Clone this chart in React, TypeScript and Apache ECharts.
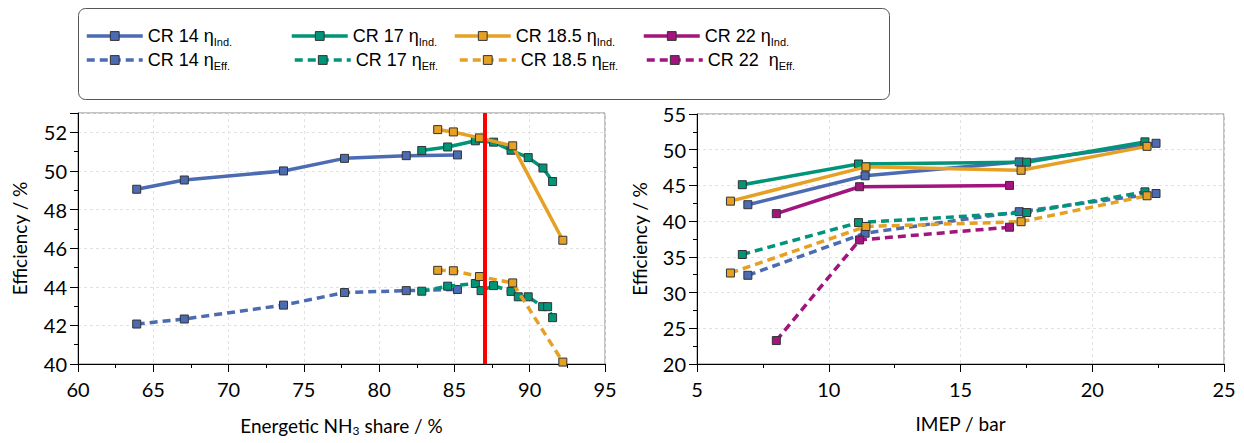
import React, { useEffect, useRef } from "react";
import * as echarts from "echarts";

// ---------- Data: left chart (x = energetic NH3 share / %) ----------
const shareCR14 = [63.9, 67.06, 73.65, 77.7, 81.8, 85.2];
const shareCR14Ind = [49.05, 49.53, 50.0, 50.65, 50.79, 50.83];
const shareCR14Eff = [42.07, 42.33, 43.05, 43.7, 43.8, 43.86];

const shareCR17Ind_x = [82.83, 84.55, 86.39, 87.6, 88.76, 89.9, 90.88, 91.52];
const shareCR17Ind = [51.06, 51.24, 51.56, 51.49, 51.07, 50.69, 50.15, 49.45];
const shareCR17Eff_x = [82.83, 84.55, 86.39, 86.77, 87.6, 88.76, 89.24, 89.9, 90.86, 91.19, 91.52];
const shareCR17Eff = [43.77, 44.03, 44.17, 43.8, 44.06, 43.76, 43.48, 43.48, 42.97, 42.97, 42.4];

const shareCR185 = [83.89, 84.93, 86.66, 88.87, 92.2];
const shareCR185Ind = [52.14, 52.02, 51.71, 51.3, 46.41];
const shareCR185Eff = [44.85, 44.83, 44.53, 44.2, 40.1];

const shareLimit = 87;

// ---------- Data: right chart (x = IMEP / bar) ----------
const imepCR14 = [6.93, 11.38, 17.23, 22.42];
const imepCR14Ind = [42.3, 46.35, 48.3, 50.9];
const imepCR14Eff = [32.42, 38.32, 41.32, 43.87];

const imepCR17 = [6.72, 11.13, 17.51, 22.0];
const imepCR17Ind = [45.1, 48.0, 48.25, 51.1];
const imepCR17Eff = [35.33, 39.8, 41.2, 44.1];

const imepCR185 = [6.27, 11.41, 17.3, 22.08];
const imepCR185Ind = [42.8, 47.6, 47.12, 50.47];
const imepCR185Eff = [32.74, 39.25, 39.92, 43.55];

const imepCR22 = [8.01, 11.17, 16.86];
const imepCR22Ind = [41.05, 44.82, 45.0];
const imepCR22Eff = [23.28, 37.37, 39.15];

// ---------- Labels ----------
const crLabels = ["CR 14", "CR 17", "CR 18.5", "CR 22"];
const effTypes = ["Ind.", "Eff."];
const colors = ["#4B6BB2", "#009479", "#E6A024", "#A2147E"];

const pairs = (xs: number[], ys: number[]) => xs.map((x, i) => [x, ys[i]]);
const nameOf = (ci: number, ti: number) => `${crLabels[ci]} η${effTypes[ti]}`;

export default function App() {
  const ref = useRef<HTMLDivElement>(null);

  useEffect(() => {
    document.body.style.margin = "0";
    if (!ref.current) return;
    const chart = echarts.init(ref.current, null, { renderer: "svg" });

    const LINE_W = 3.5;
    const dash = [8, 5];

    const mkSeries = (
      ci: number,
      ti: number,
      data: number[][],
      axisIndex: number,
      extra: any = {}
    ) => ({
      type: "line",
      name: nameOf(ci, ti),
      xAxisIndex: axisIndex,
      yAxisIndex: axisIndex,
      data,
      symbol: "rect",
      symbolSize: 8,
      z: 2 + ci,
      lineStyle: { color: colors[ci], width: LINE_W, type: ti === 0 ? "solid" : dash, cap: "butt" },
      itemStyle: { color: colors[ci], borderColor: "#333", borderWidth: 1 },
      emphasis: { disabled: true },
      ...extra,
    });

    const tickFont = { fontFamily: "Lato", fontSize: 20, color: "#000" };
    const nameFont = { fontFamily: "Lato", fontSize: 19, color: "#000" };

    const axisCommon = {
      axisLine: { show: true, onZero: false, lineStyle: { color: "#000", width: 1 } },
      axisTick: { show: true, inside: false, length: 8, lineStyle: { color: "#000" } },
      minorTick: { show: true, splitNumber: 2, length: 4, lineStyle: { color: "#000" } },
      splitLine: { show: true, lineStyle: { color: "#e2e2e2", type: [3, 3], width: 1 } },
    };

    const legendPos = [
      [[85, 27], [290, 27], [453, 27], [642, 27]],
      [[85, 51], [293, 51], [458, 51], [645, 51]],
    ];

    const legends: any[] = [];
    for (let ti = 0; ti < 2; ti++) {
      for (let ci = 0; ci < 4; ci++) {
        const [lx, ly] = legendPos[ti][ci];
        legends.push({
          left: lx,
          top: ly,
          padding: 0,
          itemWidth: 56,
          itemHeight: 11,
          selectedMode: false,
          data: [nameOf(ci, ti)],
          lineStyle: { width: LINE_W },
          itemStyle: { borderColor: "#333", borderWidth: 1 },
          formatter: () => {
            const main = ci === 3 && ti === 1 ? `${crLabels[ci]}\u00a0 η` : `${crLabels[ci]} η`;
            return `{m|${main}}{s|${effTypes[ti]}}`;
          },
          textStyle: {
            rich: {
              m: { fontFamily: "Liberation Sans", fontSize: 18, color: "#000" },
              s: { fontFamily: "Liberation Sans", fontSize: 11, color: "#000", padding: [12, 0, 0, 0] },
            },
          },
        });
      }
    }

    const option: any = {
      animation: false,
      backgroundColor: "#fff",
      legend: legends,
      graphic: [
        {
          type: "rect",
          shape: { x: 78.5, y: 8.5, width: 811, height: 91, r: 7 },
          style: { fill: "none", stroke: "#555", lineWidth: 1 },
          silent: true,
        },
      ],
      grid: [
        { left: 78, right: 639, top: 113, bottom: 79, show: true, borderColor: "#888", borderWidth: 1, containLabel: false },
        { left: 697, right: 20, top: 114, bottom: 79, show: true, borderColor: "#888", borderWidth: 1, containLabel: false },
      ],
      xAxis: [
        {
          type: "value",
          gridIndex: 0,
          min: 60,
          max: 95,
          interval: 5,
          ...axisCommon,
          axisLabel: { ...tickFont, margin: 15 },
          name: "Energetic NH{sub|3} share / %",
          nameLocation: "middle",
          nameGap: 50,
          nameTextStyle: { ...nameFont, rich: { sub: { fontFamily: "Lato", fontSize: 12, padding: [10, 0, 0, 0] } } },
        },
        {
          type: "value",
          gridIndex: 1,
          min: 5,
          max: 25,
          interval: 5,
          ...axisCommon,
          axisLabel: { ...tickFont, margin: 15 },
          name: "IMEP / bar",
          nameLocation: "middle",
          nameGap: 50,
          nameTextStyle: nameFont,
        },
      ],
      yAxis: [
        {
          type: "value",
          gridIndex: 0,
          min: 40,
          max: 53,
          interval: 2,
          ...axisCommon,
          axisLabel: { ...tickFont, margin: 11, showMaxLabel: false },
          name: "Efficiency / %",
          nameLocation: "middle",
          nameGap: 49,
          nameTextStyle: nameFont,
        },
        {
          type: "value",
          gridIndex: 1,
          min: 20,
          max: 55,
          interval: 5,
          ...axisCommon,
          axisLabel: { ...tickFont, margin: 11 },
          name: "Efficiency / %",
          nameLocation: "middle",
          nameGap: 48,
          nameTextStyle: nameFont,
        },
      ],
      series: [
        // left chart
        mkSeries(0, 0, pairs(shareCR14, shareCR14Ind), 0, {
          markLine: {
            silent: true,
            symbol: "none",
            label: { show: false },
            lineStyle: { color: "#FF0000", width: 4, type: "solid" },
            data: [{ xAxis: shareLimit }],
            z: 10,
          },
        }),
        mkSeries(0, 1, pairs(shareCR14, shareCR14Eff), 0),
        mkSeries(1, 0, pairs(shareCR17Ind_x, shareCR17Ind), 0),
        mkSeries(1, 1, pairs(shareCR17Eff_x, shareCR17Eff), 0),
        mkSeries(2, 0, pairs(shareCR185, shareCR185Ind), 0),
        mkSeries(2, 1, pairs(shareCR185, shareCR185Eff), 0),
        // right chart
        mkSeries(0, 0, pairs(imepCR14, imepCR14Ind), 1),
        mkSeries(0, 1, pairs(imepCR14, imepCR14Eff), 1),
        mkSeries(1, 0, pairs(imepCR17, imepCR17Ind), 1),
        mkSeries(1, 1, pairs(imepCR17, imepCR17Eff), 1),
        mkSeries(2, 0, pairs(imepCR185, imepCR185Ind), 1),
        mkSeries(2, 1, pairs(imepCR185, imepCR185Eff), 1),
        mkSeries(3, 0, pairs(imepCR22, imepCR22Ind), 1),
        mkSeries(3, 1, pairs(imepCR22, imepCR22Eff), 1),
      ],
    };

    chart.setOption(option);
    return () => chart.dispose();
  }, []);

  return <div ref={ref} style={{ width: 1244, height: 443 }} />;
}
